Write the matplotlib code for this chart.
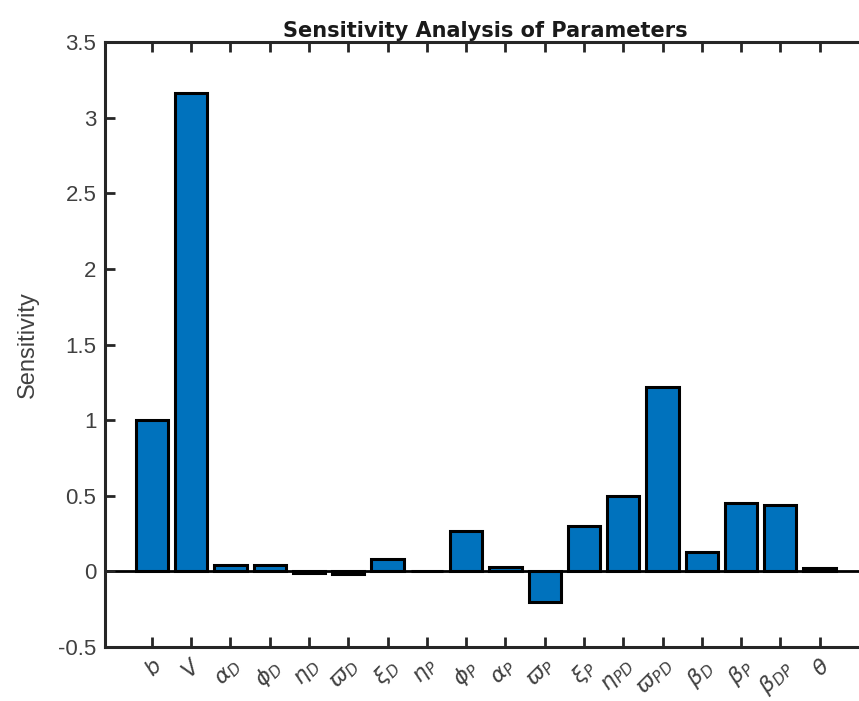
import matplotlib
matplotlib.use('Agg')
import matplotlib.pyplot as plt
import numpy as np

# Parameter labels and sensitivity values
params = [r'$b$', r'$V$', r'$\alpha_D$', r'$\phi_D$', r'$\eta_D$', r'$\varpi_D$',
          r'$\xi_D$', r'$\eta_P$', r'$\phi_P$', r'$\alpha_P$', r'$\varpi_P$',
          r'$\xi_P$', r'$\eta_{PD}$', r'$\varpi_{PD}$', r'$\beta_D$', r'$\beta_P$',
          r'$\beta_{DP}$', r'$\theta$']
sensitivity = [1.00, 3.165, 0.04, 0.04, -0.01, -0.015, 0.085, 0.005, 0.265,
               0.03, -0.20, 0.30, 0.50, 1.22, 0.125, 0.45, 0.44, 0.025]
yticks = [-0.5, 0, 0.5, 1, 1.5, 2, 2.5, 3, 3.5]
ytick_labels = ['-0.5', '0', '0.5', '1', '1.5', '2', '2.5', '3', '3.5']

plt.rcParams['font.family'] = ['Liberation Sans', 'DejaVu Sans']
plt.rcParams['mathtext.fontset'] = 'dejavusans'

fig = plt.figure(figsize=(8.59, 7.01), dpi=100)
ax = fig.add_axes([0.122, 0.077, 0.887, 0.863])

x = np.arange(len(params))
ax.bar(x, sensitivity, width=0.82, color='#0072BD', edgecolor='black',
       linewidth=2.2, zorder=2)
ax.axhline(0, color='black', linewidth=2, zorder=1)

ax.set_xlim(-1.2, len(params) - 1 + 1.2)
ax.set_ylim(-0.5, 3.5)
ax.set_yticks(yticks)
ax.set_yticklabels(ytick_labels)
ax.set_xticks(x)
ax.set_xticklabels(params, rotation=45, ha='right', va='top',
                   rotation_mode='anchor', fontsize=14, color='#333333')

for sp in ax.spines.values():
    sp.set_linewidth(2.2)
    sp.set_color('#262626')

ax.tick_params(axis='both', direction='in', length=7, width=2,
               color='#262626', labelcolor='#404040', labelsize=16,
               top=True, right=False)
ax.tick_params(axis='x', pad=6)
ax.tick_params(axis='y', pad=6)

ax.set_ylabel('Sensitivity', fontsize=17, color='#404040', labelpad=14)
ax.set_title('Sensitivity Analysis of Parameters', fontsize=15,
             fontweight='bold', family='DejaVu Sans', color='#1a1a1a', pad=4)

fig.savefig('out.png', dpi=100)
